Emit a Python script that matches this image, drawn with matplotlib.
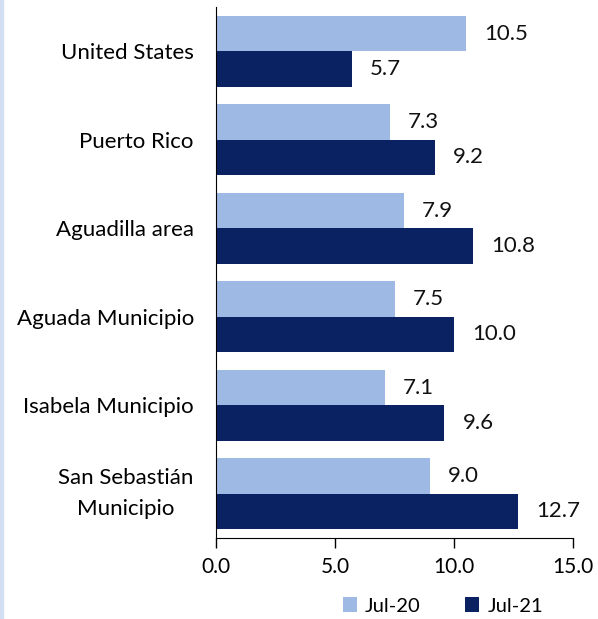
import matplotlib
matplotlib.use("Agg")
import matplotlib.pyplot as plt
import matplotlib.transforms as mtransforms
import numpy as np
from matplotlib.patches import Rectangle

categories = ["United States", "Puerto Rico", "Aguadilla area", "Aguada Municipio",
              "Isabela Municipio", "San Sebastián\nMunicipio"]
jul20 = [10.5, 7.3, 7.9, 7.5, 7.1, 9.0]
jul21 = [5.7, 9.2, 10.8, 10.0, 9.6, 12.7]
series_names = ["Jul-20", "Jul-21"]
xticks = [0.0, 5.0, 10.0, 15.0]

c20 = "#9DB9E4"
c21 = "#0B2262"

plt.rcParams['font.family'] = ['Lato', 'DejaVu Sans']
fig = plt.figure(figsize=(5.98, 6.19), dpi=100)
ax = fig.add_axes([216/598, 1-538/619, (573-216)/598, (538-7)/619])

n = len(categories)
y = np.arange(n)
h = 0.4
b1 = ax.barh(y - h/2, jul20, height=h, color=c20, label=series_names[0])
b2 = ax.barh(y + h/2, jul21, height=h, color=c21, label=series_names[1])

for rects, vals in ((b1, jul20), (b2, jul21)):
    for r, v in zip(rects, vals):
        ax.annotate(f"{v:.1f}", (v, r.get_y() + r.get_height()/2),
                    xytext=(13, 0), textcoords="offset points",
                    ha="left", va="center", fontsize=16, color="#111111")

ax.set_ylim(n - 0.5, -0.5)
ax.set_xlim(0, 15)
ax.set_yticks(y)
ax.set_yticklabels(categories, fontsize=16, ha="right", multialignment="center",
                   linespacing=1.72)
ax.tick_params(axis="y", length=0, pad=16)
# nudge the two-line label up slightly
lbl = ax.get_yticklabels()[-1]
lbl.set_transform(lbl.get_transform() +
                  mtransforms.ScaledTranslation(0, 8/100, fig.dpi_scale_trans))
ax.set_xticks(xticks)
ax.set_xticklabels([f"{t:.1f}" for t in xticks], fontsize=15)
ax.tick_params(axis="x", direction="out", length=7, width=1, color="black", pad=7)
for s in ["top", "right"]:
    ax.spines[s].set_visible(False)
ax.spines["left"].set_color("black")
ax.spines["bottom"].set_color("black")

leg = fig.legend(handles=[b1, b2], labels=series_names, loc="center",
                 bbox_to_anchor=(443/598, 1-606/619), ncol=2, frameon=False,
                 fontsize=14.5, handlelength=0.7, handleheight=0.7,
                 columnspacing=2.2, handletextpad=0.4)

fig.patches.append(Rectangle((0, 0), 3/598, 1, transform=fig.transFigure,
                             color="#D2DEF2", zorder=0))

fig.savefig("out.png", dpi=100)
